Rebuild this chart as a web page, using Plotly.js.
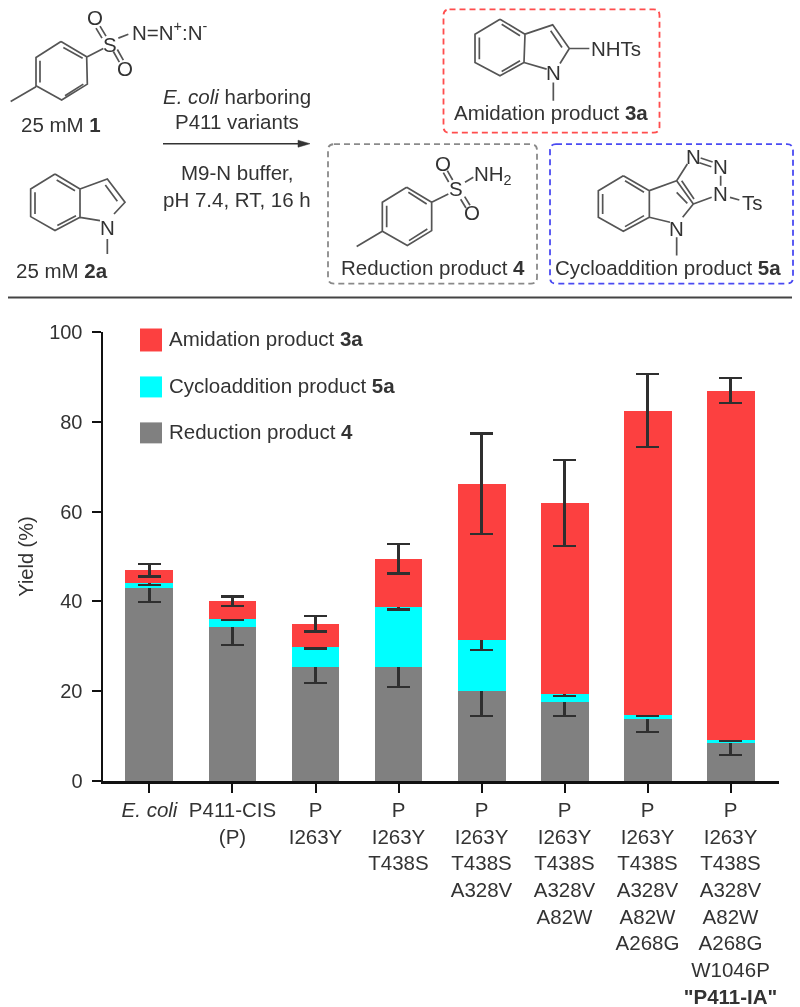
<!DOCTYPE html>
<html>
<head>
<meta charset="utf-8">
<script src="https://cdn.plot.ly/plotly-3.0.1.min.js"></script>
<style>html,body{margin:0;padding:0;background:#fff}#chart{width:800px;height:1007px;filter:blur(0.5px)}</style>
</head>
<body>
<div id="chart"></div>
<script>
const categories = ['<i>E. coli</i>','P411-CIS<br>(P)','P<br>I263Y','P<br>I263Y<br>T438S','P<br>I263Y<br>T438S<br>A328V','P<br>I263Y<br>T438S<br>A328V<br>A82W','P<br>I263Y<br>T438S<br>A328V<br>A82W<br>A268G','P<br>I263Y<br>T438S<br>A328V<br>A82W<br>A268G<br>W1046P<br><b>"P411-IA"</b>'];
const reduction = [43.0,34.2,25.45,25.4,20.0,17.5,13.9,8.5];
const reductionErr = [3.2,3.9,3.7,4.5,5.6,3.0,3.0,2.7];
const cycloaddition = [1.0,1.85,4.3,13.3,11.45,1.8,0.8,0.55];
const cycloadditionErr = [0.4,0.1,0.25,0.5,2.35,0.3,0.2,0.1];
const amidation = [2.9,4.0,5.25,10.8,34.75,42.6,67.8,77.85];
const amidationErr = [1.35,1.04,1.7,3.3,11.2,9.6,8.2,2.8];
const seriesNames = ['Reduction product <b>4</b>','Cycloaddition product <b>5a</b>','Amidation product <b>3a</b>'];
const seriesColors = ['#808080','#00FFFF','#FC4040'];

const L=103,R=779,T=331.5,B=781;
const fx=p=>(p-L)/(R-L), fy=p=>(B-p)/(B-T);
const INK='#333333', FS=20.5;
const err=a=>({type:'data',array:a,visible:true,color:'#2f2f2f',thickness:2.2,width:11.5});
const bar=(y,e,i)=>({type:'bar',x:categories,y:y,name:seriesNames[i],width:0.578,marker:{color:seriesColors[i],line:{width:0}},error_y:err(e),showlegend:false,hoverinfo:'y'});
const traces=[bar(reduction,reductionErr,0),bar(cycloaddition,cycloadditionErr,1),bar(amidation,amidationErr,2)];

const shapes=[], annotations=[];
const txt=(x,y,s,anchor,size)=>annotations.push({xref:'paper',yref:'paper',x:fx(x),y:fy(y),text:s,showarrow:false,xanchor:anchor||'center',yanchor:'middle',font:{family:'Liberation Sans, Arial, sans-serif',size:size||FS,color:INK},borderpad:0,borderwidth:0});
// path from zoomed-crop pixel coordinates
const mol=(ox,polys,w,c)=>{
  const d=polys.map(pl=>{let s='';for(let i=0;i<pl.length;i+=2){s+=(i?'L':'M')+fx(ox+pl[i]/3).toFixed(5)+' '+fy(pl[i+1]/3).toFixed(5)+' ';}return s;}).join('');
  shapes.push({type:'path',xref:'paper',yref:'paper',path:d,line:{color:c||'#555555',width:w||1.7},layer:'above'});
};
const box=(x0,y0,x1,y1,c)=>{
  const r=6,X0=fx(x0),X1=fx(x1),Y0=fy(y0),Y1=fy(y1),rx=r/(R-L),ry=r/(B-T);
  const d=`M${X0+rx} ${Y0} L${X1-rx} ${Y0} Q${X1} ${Y0} ${X1} ${Y0-ry} L${X1} ${Y1+ry} Q${X1} ${Y1} ${X1-rx} ${Y1} L${X0+rx} ${Y1} Q${X0} ${Y1} ${X0} ${Y1+ry} L${X0} ${Y0-ry} Q${X0} ${Y0} ${X0+rx} ${Y0} Z`;
  shapes.push({type:'path',xref:'paper',yref:'paper',path:d,line:{color:c,width:1.8,dash:'6px,4px'}});
};

// tosyl azide 1
mol(0,[[183,122,260,168,262,250,185,298,108,255,108,170,183,122],[108,258,32,302],[262,168,310,143],[120,180,120,245],[190,140,248,172],[195,285,250,250],
  [318,106,300,76],[306,112,288,82],[340,152,358,184],[352,146,370,178],[355,112,385,100]]);
txt(110,44,'S');txt(95,17,'O');txt(125,68,'O');
txt(169,30,'N=N<sup>+</sup>:N<sup>-</sup>');
txt(61,124,'25 mM <b>1</b>');
// indole 2a
mol(0,[[165,520,240,565,240,650,165,690,92,648,92,565,165,520],[240,565,322,535,375,605,342,640],[300,660,240,650],[316,553,352,602],[322,715,322,760],[105,575,105,640],[170,538,225,570],[172,675,228,645]]);
txt(107,227,'N');
txt(62,270,'25 mM <b>2a</b>');
// reaction arrow
shapes.push({type:'line',xref:'paper',yref:'paper',x0:fx(163),x1:fx(300),y0:fy(143),y1:fy(143),line:{color:'#333',width:1.5}});
shapes.push({type:'path',xref:'paper',yref:'paper',path:`M${fx(298)} ${fy(139.5)} L${fx(310)} ${fy(143)} L${fx(298)} ${fy(146.5)} Z`,fillcolor:'#333',line:{color:'#333',width:0.5}});
txt(237,96,'<i>E. coli</i> harboring');
txt(237,121,'P411 variants');
txt(237,172,'M9-N buffer,');
txt(237,199,'pH 7.4, RT, 16 h');
// boxes
box(443.5,8.5,659.5,132,'#FF4D4D');
box(328,143.5,537,283,'#8a8a8a');
box(550,143.5,793,283,'#4A4AF2');
shapes.push({type:'line',xref:'paper',yref:'paper',x0:fx(8),x1:fx(792),y0:fy(297),y1:fy(297),line:{color:'#444',width:2}});
// amidation 3a
const O2=330;
mol(O2,[[510,55,585,100,582,185,510,225,435,185,435,100,510,55],[585,100,668,72,718,143,690,188],[650,205,582,185],[662,90,696,140],[718,143,778,143],[670,245,670,300],[448,110,448,175],[515,70,570,105],[515,212,570,180]]);
txt(O2+670/3,72,'N');
txt(O2+857/3,48,'NHTs');
txt(551,112,'Amidation product <b>3a</b>');
// reduction 4
mol(O2,[[230,560,305,605,305,690,232,735,157,692,157,605,230,560],[157,692,80,738],[305,605,355,580],[170,615,170,680],[235,575,290,610],[237,720,292,685],
  [368,538,352,510],[356,544,340,516],[392,596,408,622],[404,588,420,614],[405,545,430,530]]);
txt(O2+378/3,188,'S');txt(O2+340/3,163,'O');txt(O2+427/3,212,'O');
txt(O2+490/3,174,'NH<sub>2</sub>');
txt(433,267,'Reduction product <b>4</b>');
// cycloaddition 5a
mol(O2,[[880,525,958,570,958,650,880,692,805,650,805,570,880,525],[958,570,1040,540,1090,610,1058,650],[1020,665,958,650],[1040,575,1072,608],[1040,540,1072,490],[1055,540,1092,595],[1112,472,1148,484],[1108,486,1144,498],[1172,525,1172,555],[1090,610,1145,590],[1200,590,1228,598],[1040,710,1040,765],[818,580,818,640],[885,540,942,575],[885,678,942,645]]);
txt(O2+1090/3,156,'N');txt(O2+1172/3,166,'N');txt(O2+1170/3,193,'N');txt(O2+1268/3,202,'Ts');txt(O2+1040/3,228,'N');
txt(O2+1015/3,267,'Cycloaddition product <b>5a</b>');
// key
[[328,351,338,2],[376,397,385,1],[422,443,431,0]].forEach(k=>{
  shapes.push({type:'rect',xref:'paper',yref:'paper',x0:fx(140),x1:fx(162),y0:fy(k[0]),y1:fy(k[1]),fillcolor:seriesColors[k[3]],line:{width:0}});
  txt(169,k[2],seriesNames[k[3]],'left');
});

const layout={
  width:800,height:1007,margin:{l:L,r:800-R,t:T,b:1007-B,pad:0},
  paper_bgcolor:'#fff',plot_bgcolor:'#fff',barmode:'stack',showlegend:false,
  font:{family:'Liberation Sans, Arial, sans-serif',color:INK,size:FS},
  xaxis:{type:'category',range:[-0.56,7.584],categoryorder:'array',categoryarray:categories,tickangle:0,ticks:'outside',ticklen:9,tickwidth:2,tickcolor:'#111',showline:true,linewidth:2.5,linecolor:'#111',showgrid:false,zeroline:false,tickfont:{size:20.5,color:INK},automargin:false,fixedrange:true},
  yaxis:{range:[0,100],tick0:0,dtick:20,ticks:'outside',ticklen:9,tickwidth:2,tickcolor:'#111',showline:true,linewidth:2.5,linecolor:'#111',showgrid:false,zeroline:false,ticklabelstandoff:5,tickfont:{size:20,color:INK},title:{text:'Yield (%)',font:{size:20,color:INK},standoff:10},automargin:false,fixedrange:true},
  shapes:shapes,annotations:annotations
};
Plotly.newPlot('chart',traces,layout,{displayModeBar:false,staticPlot:true});
</script>
</body>
</html>
